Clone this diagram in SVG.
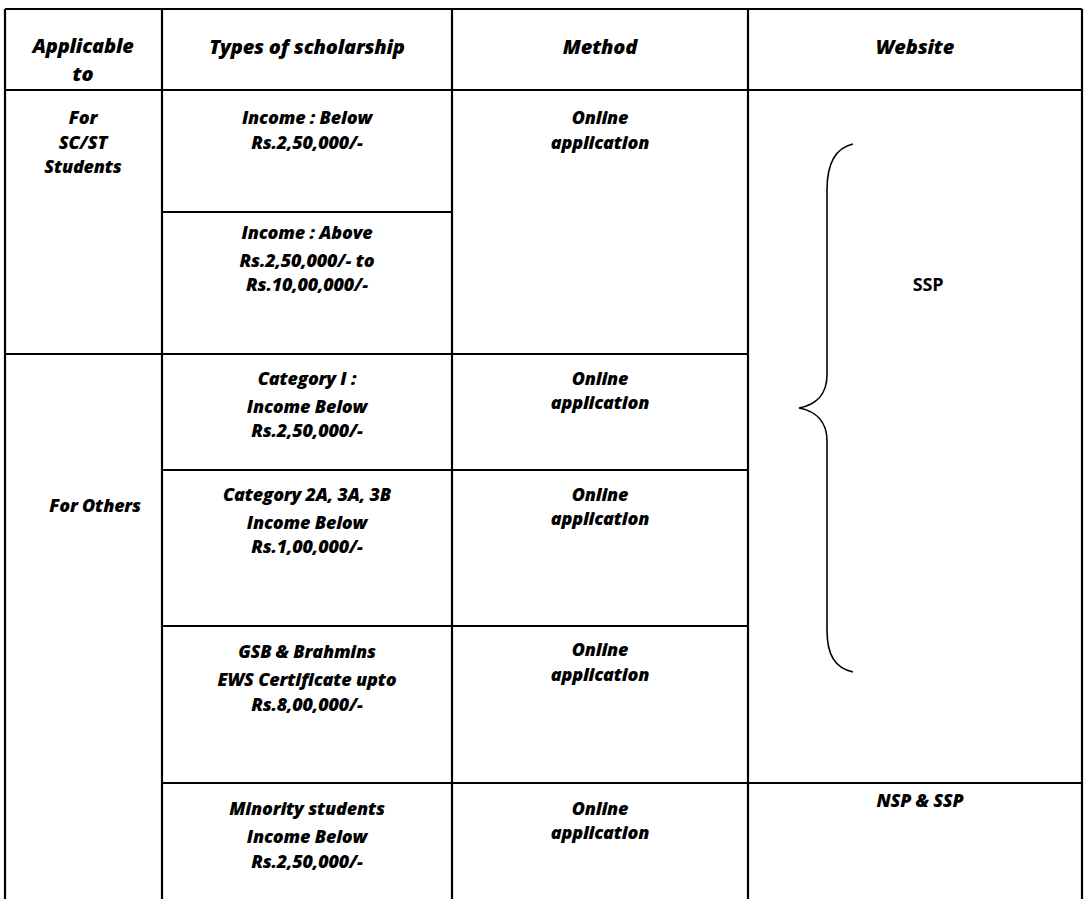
<svg xmlns="http://www.w3.org/2000/svg" width="1086" height="899" viewBox="0 0 1086 899">
  <style>
    .grid { stroke: #000; stroke-width: 2.2; fill: none; }
    .brace { stroke: #000; stroke-width: 1.6; fill: none; }
    text { font-family: "Open Sans", "Noto Sans", "DejaVu Sans", sans-serif; font-size: 18px; font-weight: 800; font-style: italic; fill: #000; text-anchor: middle; letter-spacing: -0.2px; }
    .hd { font-size: 20px; }
    .up { font-style: normal; font-weight: 700; font-size: 18px; }
  </style>
  <rect width="1086" height="899" fill="#fff"/>

  <!-- table rules -->
  <g id="connectors">
    <g class="grid">
      <line x1="5" y1="9" x2="1082" y2="9"/>
      <line x1="5" y1="90" x2="1082" y2="90"/>
      <line x1="5" y1="9" x2="5" y2="899"/>
      <line x1="1082" y1="9" x2="1082" y2="899"/>
      <line x1="162" y1="9" x2="162" y2="899"/>
      <line x1="452" y1="9" x2="452" y2="899"/>
      <line x1="748" y1="9" x2="748" y2="899"/>
      <line x1="162" y1="212" x2="452" y2="212"/>
      <line x1="5" y1="354" x2="748" y2="354"/>
      <line x1="162" y1="470" x2="748" y2="470"/>
      <line x1="162" y1="626" x2="748" y2="626"/>
      <line x1="162" y1="783" x2="1082" y2="783"/>
    </g>
    <!-- curly brace grouping the SSP rows -->
    <path class="brace" d="M853,144 C835,148 827,165 827,190 L827,375 C827,395 815,405 799,408 C815,411 827,421 827,441 L827,630 C827,655 835,668 853,672"/>
  </g>

  <g id="header">
    <text class="hd" x="83" y="53">Applicable</text>
    <text class="hd" x="83" y="81">to</text>
    <text class="hd" x="307" y="54">Types of scholarship</text>
    <text class="hd" x="600" y="54">Method</text>
    <text class="hd" x="915" y="54">Website</text>
  </g>

  <g id="sc-st">
    <text x="83" y="124">For</text>
    <text x="83" y="149">SC/ST</text>
    <text x="83" y="173">Students</text>
  </g>

  <g id="sc-st-below">
    <text x="307" y="124">Income : Below</text>
    <text x="307" y="149">Rs.2,50,000/-</text>
  </g>

  <g id="sc-st-above">
    <text x="307" y="239">Income : Above</text>
    <text x="307" y="267">Rs.2,50,000/- to</text>
    <text x="307" y="291">Rs.10,00,000/-</text>
  </g>

  <g id="sc-st-method">
    <text x="600" y="124">Online</text>
    <text x="600" y="149">application</text>
  </g>

  <g id="ssp">
    <text class="up" x="928" y="291">SSP</text>
  </g>

  <g id="others">
    <text x="95" y="512">For Others</text>
  </g>

  <g id="cat-1">
    <text x="307" y="385">Category I :</text>
    <text x="307" y="413">Income Below</text>
    <text x="307" y="437">Rs.2,50,000/-</text>
  </g>
  <g id="cat-1-method">
    <text x="600" y="385">Online</text>
    <text x="600" y="409">application</text>
  </g>

  <g id="cat-2">
    <text x="307" y="501">Category 2A, 3A, 3B</text>
    <text x="307" y="529">Income Below</text>
    <text x="307" y="553">Rs.1,00,000/-</text>
  </g>
  <g id="cat-2-method">
    <text x="600" y="501">Online</text>
    <text x="600" y="525">application</text>
  </g>

  <g id="gsb">
    <text x="307" y="658">GSB &amp; Brahmins</text>
    <text x="307" y="686">EWS Certificate upto</text>
    <text x="307" y="711">Rs.8,00,000/-</text>
  </g>
  <g id="gsb-method">
    <text x="600" y="656">Online</text>
    <text x="600" y="681">application</text>
  </g>

  <g id="minority">
    <text x="307" y="815">Minority students</text>
    <text x="307" y="843">Income Below</text>
    <text x="307" y="868">Rs.2,50,000/-</text>
  </g>
  <g id="minority-method">
    <text x="600" y="815">Online</text>
    <text x="600" y="839">application</text>
  </g>
  <g id="minority-site">
    <text x="920" y="807">NSP &amp; SSP</text>
  </g>
</svg>
